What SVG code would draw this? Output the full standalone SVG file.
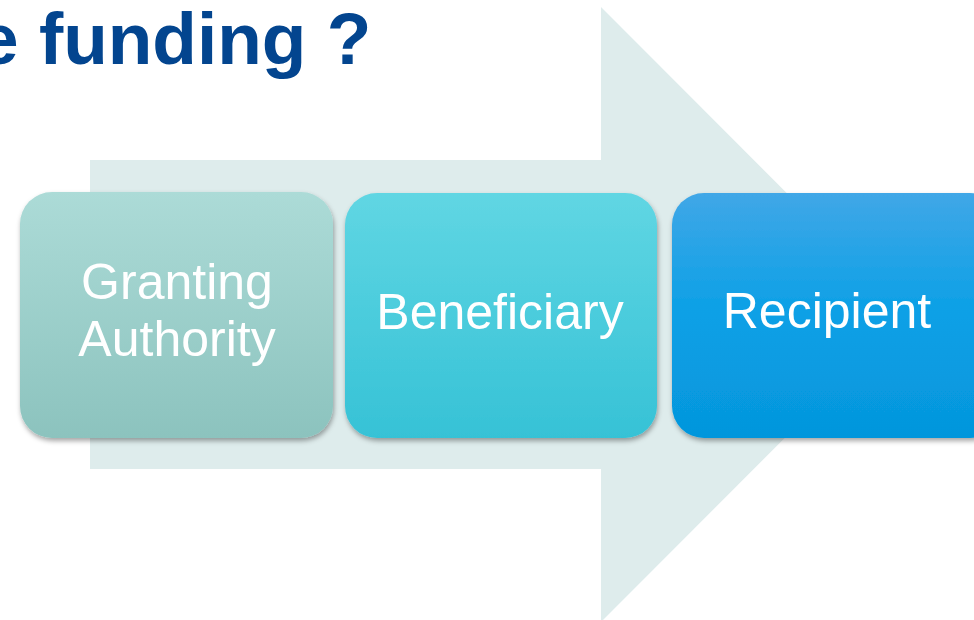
<svg xmlns="http://www.w3.org/2000/svg" width="974" height="620" viewBox="0 0 974 620">
<defs>
<linearGradient id="g1" x1="0" y1="0" x2="0" y2="1"><stop offset="0" stop-color="#acdbd7"/><stop offset="1" stop-color="#8cc3be"/></linearGradient>
<linearGradient id="g2" x1="0" y1="0" x2="0" y2="1"><stop offset="0" stop-color="#60d6e3"/><stop offset="1" stop-color="#36c2d6"/></linearGradient>
<linearGradient id="g3" x1="0" y1="0" x2="0" y2="1"><stop offset="0" stop-color="#40a7e7"/><stop offset="0.5" stop-color="#0aa0e6"/><stop offset="1" stop-color="#0596dc"/></linearGradient>
<filter id="sh" x="-10%" y="-10%" width="125%" height="125%"><feDropShadow dx="1" dy="3" stdDeviation="2.5" flood-color="#000" flood-opacity="0.35"/></filter>
<style>
.lbl{font-family:"Liberation Sans",Arial,sans-serif;font-size:50px;fill:#fff;text-anchor:middle}
.title{font-family:"Liberation Sans",Arial,sans-serif;font-weight:bold;font-size:73px;fill:#03458f}
</style>
</defs>
<rect width="974" height="620" fill="#fff"/>
<text class="title" x="-22" y="64">e funding ?</text>
<g id="connectors">
<polygon points="90,160 601,160 601,7 908,314.5 601,622 601,469 90,469" fill="#deecec"/>
</g>
<g id="granting-authority">
<rect x="20" y="192" width="313" height="246" rx="32" fill="url(#g1)" filter="url(#sh)"/>
<text class="lbl" x="177" y="299">Granting</text>
<text class="lbl" x="177" y="356">Authority</text>
</g>
<g id="beneficiary">
<rect x="345" y="193" width="312" height="245" rx="32" fill="url(#g2)" filter="url(#sh)"/>
<text class="lbl" x="500" y="329">Beneficiary</text>
</g>
<g id="recipient">
<rect x="672" y="193" width="330" height="245" rx="32" fill="url(#g3)" filter="url(#sh)"/>
<text class="lbl" x="827" y="328">Recipient</text>
</g>
</svg>
